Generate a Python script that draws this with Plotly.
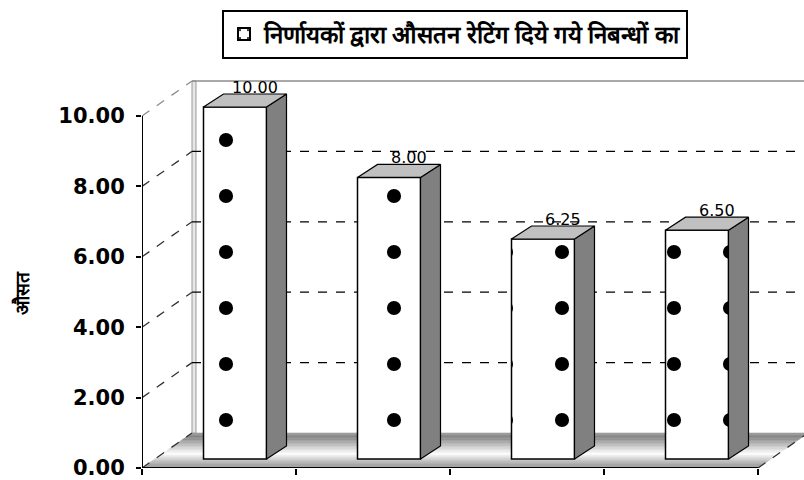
import plotly.graph_objects as go
import numpy as np

# ---------------- data ----------------
values = [10.00, 8.00, 6.25, 6.50]
value_labels = ["10.00", "8.00", "6.25", "6.50"]
y_ticks = [0, 2, 4, 6, 8, 10]
y_tick_labels = ["0.00", "2.00", "4.00", "6.00", "8.00", "10.00"]
series_name = "निर्णायकों द्वारा औसतन रेटिंग दिये गये निबन्धों का"
y_title = "औसत"

# ---------------- geometry (styling) ----------------
W, H = 804, 480
ML, MB = 142, 12
PX_X, PX_Y = 154.0, 35.2          # pixels per category / per value unit
n = len(values)
x_lo = -0.5
x_hi = x_lo + (W - ML) / PX_X
y_hi = (H - MB) / PX_Y

WDX, WDY = 50 / PX_X, 35 / PX_Y    # wall depth offset
BW = 63 / PX_X                     # bar width
BSX, BSY = 16 / PX_X, 9 / PX_Y     # bar front-face shift
BDX, BDY = 20 / PX_X, 13 / PX_Y    # bar depth

idx = list(range(n))
bx = [i + BSX for i in idx]

fig = go.Figure()

# front faces of bars
fig.add_trace(go.Bar(
    x=bx, y=values, base=BSY, width=BW, name=series_name,
    marker=dict(color="white", line=dict(color="black", width=1.5),
                pattern=dict(shape=".", fgcolor="black", bgcolor="white",
                             fgopacity=1, size=56, solidity=0.05)),
    showlegend=True, hoverinfo="skip",
))

# side and top faces
sx, sy, tx, ty = [], [], [], []
for xc, v in zip(bx, values):
    xl, xr = xc - BW / 2, xc + BW / 2
    top = BSY + v
    sx += [xr, xr, xr + BDX, xr + BDX, xr, None]
    sy += [BSY, top, top + BDY, BSY + BDY, BSY, None]
    tx += [xl, xl + BDX, xr + BDX, xr, xl, None]
    ty += [top, top + BDY, top + BDY, top, top, None]
fig.add_trace(go.Scatter(x=sx, y=sy, mode="lines", fill="toself",
                         fillcolor="#808080", line=dict(color="black", width=1.2),
                         showlegend=False, hoverinfo="skip"))
fig.add_trace(go.Scatter(x=tx, y=ty, mode="lines", fill="toself",
                         fillcolor="#c0c0c0", line=dict(color="black", width=1.2),
                         showlegend=False, hoverinfo="skip"))

shapes = []
# floor with banded gradient (t = 0 back edge, t = 1 front edge)
N = 24
grad_t = [0.0, 0.12, 0.6, 0.88, 1.0]
grad_g = [165, 132, 255, 172, 160]
def gray(t):
    g = int(round(np.interp(t, grad_t, grad_g)))
    return f"rgb({g},{g},{g})"
x_front_r = n - 0.5
for k in range(N):
    t0, t1 = k / N, (k + 1) / N
    y0, y1 = WDY * (1 - t0), WDY * (1 - t1)
    o0, o1 = WDX * (1 - t0), WDX * (1 - t1)
    path = (f"M {x_lo + o0},{y0} L {x_front_r + o0},{y0} "
            f"L {x_front_r + o1},{y1} L {x_lo + o1},{y1} Z")
    shapes.append(dict(type="path", path=path, xref="x", yref="y",
                       fillcolor=gray((t0 + t1) / 2), line=dict(width=0.6, color=gray((t0 + t1) / 2)),
                       layer="below"))

# back wall left edge band
shapes.append(dict(type="rect", xref="x", yref="y", x0=x_lo + WDX, x1=x_lo + WDX + 4 / PX_X,
                   y0=WDY, y1=y_ticks[-1] + WDY, fillcolor="#e6e6e6",
                   line=dict(color="#9a9a9a", width=1), layer="below"))
# back wall top edge
shapes.append(dict(type="line", xref="x", yref="y", x0=x_lo + WDX, x1=x_hi + 1,
                   y0=y_ticks[-1] + WDY, y1=y_ticks[-1] + WDY,
                   line=dict(color="#8c8c8c", width=1.5), layer="below"))
# gridlines on back wall + left wall diagonals
for v in y_ticks[1:-1]:
    shapes.append(dict(type="line", xref="x", yref="y", x0=x_lo + WDX, x1=x_hi + 1,
                       y0=v + WDY, y1=v + WDY,
                       line=dict(color="black", width=1.3, dash="dash"), layer="below"))
for v in y_ticks[1:]:
    shapes.append(dict(type="line", xref="x", yref="y", x0=x_lo, x1=x_lo + WDX,
                       y0=v, y1=v + WDY,
                       line=dict(color="#333333" if v != y_ticks[-1] else "#8c8c8c",
                                 width=1.3, dash="dash"), layer="below"))
# floor side edges
for x0 in (x_lo, x_front_r):
    shapes.append(dict(type="line", xref="x", yref="y", x0=x0, x1=x0 + WDX,
                       y0=0, y1=WDY, line=dict(color="#333333", width=1.3, dash="dash"),
                       layer="below"))
# front axis lines
shapes.append(dict(type="line", xref="x", yref="y", x0=x_lo, x1=x_lo, y0=0,
                   y1=y_ticks[-1], line=dict(color="black", width=2)))
shapes.append(dict(type="line", xref="x", yref="y", x0=x_lo, x1=x_front_r, y0=0,
                   y1=0, line=dict(color="black", width=2)))

annotations = []
for xc, v, lab in zip(bx, values, value_labels):
    annotations.append(dict(x=xc + BDX, y=BSY + v + BDY, xref="x", yref="y",
                            text=lab, showarrow=False, xanchor="center",
                            yanchor="bottom", yshift=-5,
                            font=dict(family="DejaVu Sans", size=16,
                                      color="black")))
annotations.append(dict(x=0, xref="paper", xshift=-120, y=(H - MB - 293) / (H - MB),
                        yref="paper", text=f"<b>{y_title}</b>", textangle=-90,
                        showarrow=False, xanchor="center", yanchor="middle",
                        font=dict(size=19, color="black")))

fig.update_layout(
    width=W, height=H,
    margin=dict(l=ML, r=0, t=0, b=MB),
    paper_bgcolor="white", plot_bgcolor="white",
    barmode="overlay",
    shapes=shapes, annotations=annotations,
    showlegend=True,
    legend=dict(x=(222 - ML) / (W - ML), y=1 - 10 / (H - MB), xanchor="left",
                yanchor="top", bgcolor="white", bordercolor="black", borderwidth=2,
                font=dict(size=24, color="black", weight="bold"),
                itemsizing="constant", itemwidth=30, tracegroupgap=0),
    xaxis=dict(range=[x_lo, x_hi], showgrid=False, zeroline=False, showline=False,
               ticks="outside", tickvals=[x_lo + k for k in range(n + 1)],
               ticklen=6, tickwidth=1.5, tickcolor="black", showticklabels=False,
               fixedrange=True),
    yaxis=dict(range=[0, y_hi], showgrid=False, zeroline=False, showline=False,
               ticks="outside", tickvals=y_ticks, ticktext=y_tick_labels,
               ticklen=5, tickwidth=1.5, tickcolor="black", ticklabelstandoff=7,
               ticklabeloverflow="allow",
               tickfont=dict(family="DejaVu Sans", size=21, color="black",
                             weight="bold"),
               fixedrange=True),
)

fig.write_html("out.html")
